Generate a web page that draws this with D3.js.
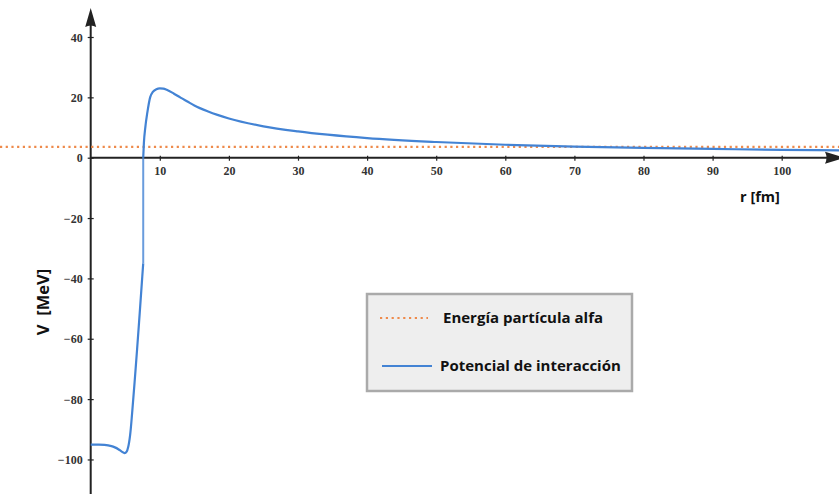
<!DOCTYPE html>
<html>
<head>
<meta charset="utf-8">
<script src="https://cdn.jsdelivr.net/npm/d3@7"></script>
<style>
  body { margin: 0; background: #fff; }
  svg { display: block; }
  .tick text { font-family: "Liberation Serif", serif; font-weight: bold; font-size: 12px; fill: #333; }
</style>
</head>
<body>
<div id="chart"></div>
<script>
// Data.
// Nuclear well part of the potential (r in fm, V in MeV)
var wellR = [0, 1, 2, 3, 3.5, 4, 4.5, 4.9, 5.2, 5.45, 5.7, 6.0, 6.5, 7.0, 7.4, 7.6];
var wellV = [-95.1, -95.1, -95.2, -95.6, -96, -96.6, -97.4, -97.9, -97.4, -95.6, -92, -84.5, -70, -54.5, -41.5, -35];
// Coulomb barrier part
var barrierR = [7.6, 7.7, 7.9, 8.2, 8.6, 9.0, 9.5, 10, 10.5, 11, 12, 13, 14, 15, 17, 20, 25, 30, 40, 50, 60, 70, 80, 90, 100, 108.6];
var barrierV = [0, 5, 10, 15, 20, 21.8, 22.7, 23, 22.9, 22.5, 21.3, 19.9, 18.6, 17.3, 15.3, 13.0, 10.4, 8.7, 6.5, 5.2, 4.3, 3.7, 3.25, 2.9, 2.6, 2.4];
var alphaEnergy = 3.6;
var xTicks = [10, 20, 30, 40, 50, 60, 70, 80, 90, 100];
var yTicks = [-100, -80, -60, -40, -20, 0, 20, 40];
var legendLabels = ["Energía partícula alfa", "Potencial de interacción"];

var width = 839, height = 494;
var blue = "#4383d4", orange = "#ee8a4b", axisColor = "#222";

var svg = d3.select("#chart").append("svg")
  .attr("width", width)
  .attr("height", height);

var x = d3.scaleLinear().domain([0, 100]).range([90.7, 781.7]);
var y = d3.scaleLinear().domain([0, 40]).range([157.7, 37]);

// axes
var xAxis = d3.axisBottom(x).tickValues(xTicks).tickSize(3).tickPadding(6)
  .tickFormat(d3.format("d"));
var yAxis = d3.axisLeft(y).tickValues(yTicks).tickSize(3).tickPadding(5)
  .tickFormat(function(d) { return d < 0 ? "\u2212" + Math.abs(d) : d; });

var gx = svg.append("g").attr("transform", "translate(0," + y(0) + ")").call(xAxis);
var gy = svg.append("g").attr("transform", "translate(" + x(0) + ",0)").call(yAxis);
[gx, gy].forEach(function(g) {
  g.select(".domain").remove();
  g.selectAll(".tick line").attr("stroke", axisColor).attr("stroke-width", 1.2);
});
gy.selectAll(".tick line").attr("x2", 3).attr("x1", -3);
gx.selectAll(".tick line").attr("y1", -2).attr("y2", 3);
gy.selectAll(".tick text").attr("dy", "0.35em");

// axis lines with arrow heads
svg.append("line")
  .attr("x1", x(0)).attr("x2", x(0))
  .attr("y1", 20).attr("y2", height)
  .attr("stroke", axisColor).attr("stroke-width", 2);
svg.append("line")
  .attr("x1", x(0)).attr("x2", 830)
  .attr("y1", y(0)).attr("y2", y(0))
  .attr("stroke", axisColor).attr("stroke-width", 2);

var ax = x(0);
svg.append("path")
  .attr("d", "M" + ax + ",8 L" + (ax + 5.5) + ",27 Q" + ax + ",24 " + (ax - 5.5) + ",27 Z")
  .attr("fill", axisColor);
var ay = y(0);
svg.append("path")
  .attr("d", "M845," + ay + " L825," + (ay - 6) + " Q828," + ay + " 825," + (ay + 6) + " Z")
  .attr("fill", axisColor);

// alpha energy line
svg.append("line")
  .attr("x1", 0).attr("x2", width)
  .attr("y1", y(alphaEnergy)).attr("y2", y(alphaEnergy))
  .attr("stroke", orange).attr("stroke-width", 2.2)
  .attr("stroke-dasharray", "2.2,3.5");

// potential curve
var wellLine = d3.line()
  .x(function(d) { return x(d[0]); })
  .y(function(d) { return y(d[1]); })
  .curve(d3.curveCatmullRom.alpha(0.5));
var line = d3.line()
  .x(function(d) { return x(d[0]); })
  .y(function(d) { return y(d[1]); })
  .curve(d3.curveMonotoneX);

var well = wellR.map(function(r, i) { return [r, wellV[i]]; });
var barrier = barrierR.map(function(r, i) { return [r, barrierV[i]]; });

svg.append("path").datum(well).attr("d", wellLine)
  .attr("fill", "none").attr("stroke", blue).attr("stroke-width", 2.2);
svg.append("line")
  .attr("x1", x(wellR[wellR.length - 1])).attr("x2", x(barrierR[0]))
  .attr("y1", y(wellV[wellV.length - 1])).attr("y2", y(barrierV[0]))
  .attr("stroke", blue).attr("stroke-width", 2).attr("stroke-opacity", 0.8);
svg.append("path").datum(barrier).attr("d", line)
  .attr("fill", "none").attr("stroke", blue).attr("stroke-width", 2.2);

// axis titles
svg.append("text")
  .attr("x", 760).attr("y", 202)
  .attr("text-anchor", "middle")
  .style("font-family", "'Open Sans', sans-serif")
  .style("font-weight", "bold").style("font-size", "14.5px").style("fill", "#111")
  .text("r [fm]");
svg.append("text")
  .attr("transform", "translate(49,302) rotate(-90)")
  .attr("text-anchor", "middle")
  .style("font-family", "'Open Sans', sans-serif")
  .style("font-weight", "bold").style("font-size", "16.5px").style("fill", "#111")
  .attr("xml:space", "preserve")
  .text("V  [MeV]");

// legend
var lg = svg.append("g");
lg.append("rect")
  .attr("x", 367).attr("y", 294).attr("width", 265).attr("height", 97)
  .attr("fill", "#eeeeee").attr("stroke", "#aaaaaa").attr("stroke-width", 2.5);
lg.append("line")
  .attr("x1", 380).attr("x2", 428).attr("y1", 318).attr("y2", 318)
  .attr("stroke", orange).attr("stroke-width", 2.2).attr("stroke-dasharray", "2.2,3.6");
lg.append("line")
  .attr("x1", 382).attr("x2", 432).attr("y1", 366).attr("y2", 366)
  .attr("stroke", blue).attr("stroke-width", 2);
lg.selectAll("text.lab").data(legendLabels).enter().append("text")
  .attr("class", "lab")
  .attr("x", function(d, i) { return i === 0 ? 443 : 440; })
  .attr("y", function(d, i) { return i === 0 ? 318 : 366; })
  .attr("dy", "0.35em")
  .style("font-family", "'Open Sans', sans-serif")
  .style("font-weight", "bold").style("font-size", "15px").style("fill", "#111")
  .text(function(d) { return d; });
</script>
</body>
</html>
